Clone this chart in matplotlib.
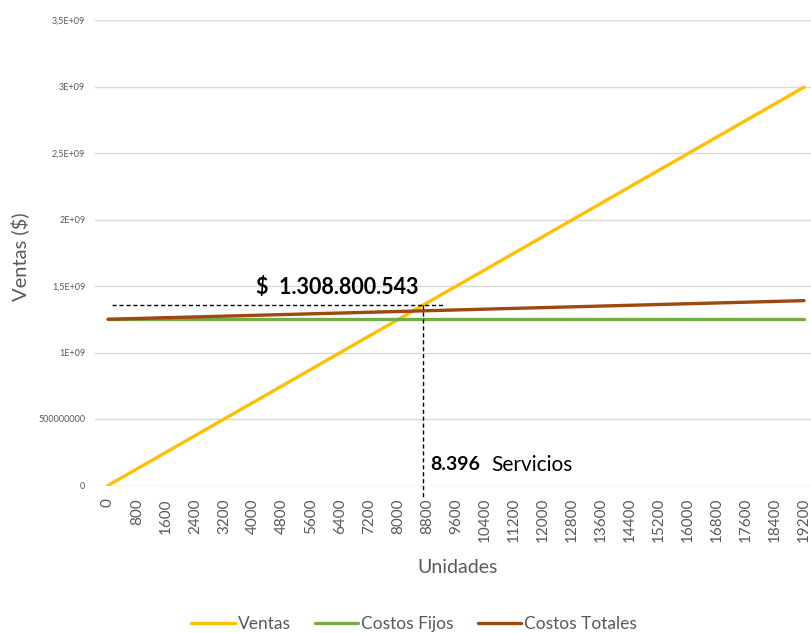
import matplotlib
matplotlib.use("Agg")
import matplotlib.pyplot as plt

plt.rcParams['font.family'] = ['Lato', 'DejaVu Sans']

# ---- data ----
unidades = [0, 800, 1600, 2400, 3200, 4000, 4800, 5600, 6400, 7200, 8000, 8800,
            9600, 10400, 11200, 12000, 12800, 13600, 14400, 15200, 16000, 16800,
            17600, 18400, 19200]
ventas = [0, 124.8e6, 249.6e6, 374.4e6, 499.2e6, 624.0e6, 748.8e6, 873.6e6,
          998.4e6, 1123.2e6, 1248.0e6, 1372.8e6, 1497.6e6, 1622.4e6, 1747.2e6,
          1872.0e6, 1996.8e6, 2121.6e6, 2246.4e6, 2371.2e6, 2496.0e6, 2620.8e6,
          2745.6e6, 2870.4e6, 2995.2e6]
costos_fijos = [1250e6] * 25
costos_totales = [1250.0e6, 1255.8e6, 1261.7e6, 1267.5e6, 1273.3e6, 1279.2e6,
                  1285.0e6, 1290.8e6, 1296.7e6, 1302.5e6, 1308.3e6, 1314.2e6,
                  1320.0e6, 1325.8e6, 1331.7e6, 1337.5e6, 1343.3e6, 1349.2e6,
                  1355.0e6, 1360.8e6, 1366.7e6, 1372.5e6, 1378.3e6, 1384.2e6,
                  1390.0e6]
x_tick_labels = [str(u) for u in unidades]
y_ticks = [0, 0.5e9, 1e9, 1.5e9, 2e9, 2.5e9, 3e9, 3.5e9]
y_tick_labels = ["0", "500000000", "1E+09", "1,5E+09", "2E+09", "2,5E+09",
                 "3E+09", "3,5E+09"]
label_valor = "$  1.308.800.543"
label_unidades = "8.396"
label_servicios = "Servicios"
# annotation guide positions (as drawn in the reference)
guia_x = 8680
guia_y = 1.357e9

W, H = 812, 633
fig = plt.figure(figsize=(W / 100, H / 100), dpi=100)
ax = fig.add_axes([95 / W, (H - 485.5) / H, 1 - 95 / W, (485.5 - 20) / H])

ax.plot(unidades, ventas, color="#FFC000", lw=2.4, label="Ventas",
        solid_capstyle="round", zorder=3)
ax.plot(unidades, costos_fijos, color="#70AD47", lw=2.4, label="Costos Fijos",
        solid_capstyle="round", zorder=3)
ax.plot(unidades, costos_totales, color="#9E480E", lw=2.4,
        label="Costos Totales", solid_capstyle="round", zorder=3)

ax.set_xlim(-357, 19420)
ax.set_ylim(0, 3.5e9)
ax.set_yticks(y_ticks)
ax.set_yticklabels(y_tick_labels)
ax.set_xticks(unidades)
ax.set_xticklabels(x_tick_labels, rotation=90)
ax.tick_params(axis="x", length=0, pad=9, labelsize=11, labelcolor="#595959")
ax.tick_params(axis="y", length=0, pad=7, labelsize=6.5, labelcolor="#595959")
for s in ax.spines.values():
    s.set_visible(False)
ax.grid(axis="y", color="#D9D9D9", lw=1)
ax.set_axisbelow(True)

ax.set_xlabel("Unidades", fontsize=14, color="#595959")
ax.xaxis.set_label_coords((458 - 95) / 717, (485.5 - 559) / 465.5)
ax.set_ylabel("Ventas ($)", fontsize=14.5, color="#595959")
ax.yaxis.set_label_coords((29 - 95) / 717, (485.5 - 257) / 465.5)

# guide dashed lines
ax.plot([110, 9300], [guia_y, guia_y], color="black", lw=1, ls=(0, (3, 2)),
        clip_on=False, zorder=4)
ax.plot([guia_x, guia_x], [guia_y, -0.09e9], color="black", lw=1,
        ls=(0, (3, 2)), clip_on=False, zorder=4)

fig.text(337 / W, 1 - 287 / H, label_valor, fontsize=15.5, fontweight="bold",
         ha="center", va="center", color="black")
fig.text(430 / W, 1 - 465 / H, label_unidades, fontsize=14, fontweight="bold",
         ha="left", va="center", color="black")
fig.text(491 / W, 1 - 465 / H, label_servicios, fontsize=15,
         ha="left", va="center", color="black")

fig.legend(loc="center", bbox_to_anchor=(414 / W, 1 - 624 / H), ncol=3,
           frameon=False, fontsize=12.5, handlelength=2.5, handletextpad=0.15,
           columnspacing=1.4, labelcolor="#595959")

fig.savefig("out.png", dpi=100)
